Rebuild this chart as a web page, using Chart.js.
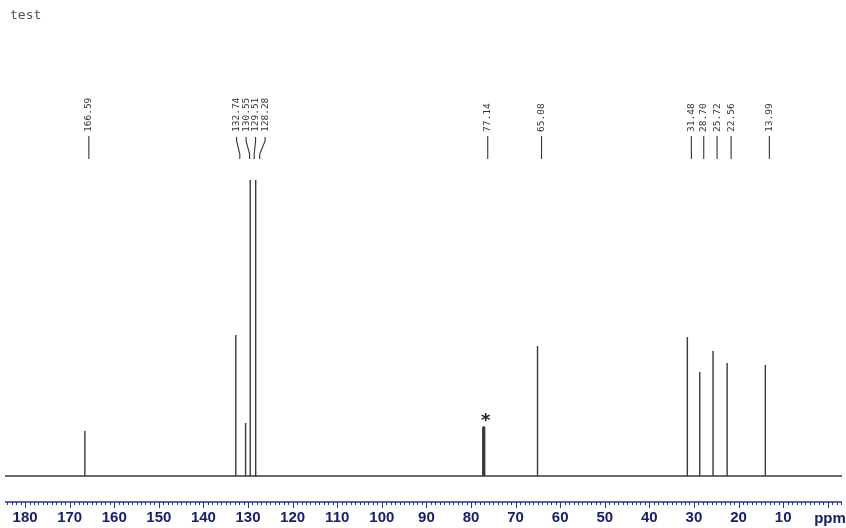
<!DOCTYPE html>
<html>
<head>
<meta charset="utf-8">
<script src="https://cdn.jsdelivr.net/npm/chart.js@4/dist/chart.umd.min.js"></script>
<style>
  html, body { margin: 0; padding: 0; background: #ffffff; }
  #wrap { position: relative; width: 846px; height: 528px; }
</style>
</head>
<body>
<div id="wrap"><canvas id="nmr" width="846" height="528"></canvas></div>
<script>
// 13C NMR spectrum (ppm scale, decreasing to the right)
const peakPpm    = [166.59, 132.74, 130.55, 129.51, 128.28, 77.36, 77.14, 76.93, 65.08, 31.48, 28.70, 25.72, 22.56, 13.99];
const peakHeight = [45,     141,    53,     400,    400,    49,    50,    49,    130,   139,   104,   125,   113,   111];

// printed peak picks
const labelPpm = ['166.59', '132.74', '130.55', '129.51', '128.28', '77.14', '65.08', '31.48', '28.70', '25.72', '22.56', '13.99'];

// axis ticks
const xTickLabels = [180, 170, 160, 150, 140, 130, 120, 110, 100, 90, 80, 70, 60, 50, 40, 30, 20, 10];
const ppmMin = -3.2, ppmMax = 184.5;

// solvent marker (CDCl3)
const solventPpm = 77.14;

// spectrum trace: flat baseline with a stick at each resonance
const trace = [{ x: ppmMax, y: 0 }];
peakPpm.map((p, i) => [p, peakHeight[i]])
  .sort((a, b) => b[0] - a[0])
  .forEach(([p, h]) => {
    trace.push({ x: p, y: 0 }, { x: p, y: h }, { x: p, y: 0 });
  });
trace.push({ x: ppmMin, y: 0 });

const NAVY = '#26348a';
const NAVY_TEXT = '#19206a';

// page title
const titlePlugin = {
  id: 'title',
  afterDraw(chart) {
    const c = chart.ctx;
    c.save();
    c.fillStyle = '#555';
    c.font = '13px "DejaVu Sans Mono", monospace';
    c.textBaseline = 'middle';
    c.fillText('test', 10, 16);
    c.restore();
  }
};

// ppm axis drawn below the trace
const ppmAxisPlugin = {
  id: 'ppmAxis',
  afterDraw(chart) {
    const c = chart.ctx, xs = chart.scales.x, y0 = chart.chartArea.bottom;
    c.save();
    c.strokeStyle = NAVY;
    c.lineWidth = 1.5;
    c.beginPath();
    c.moveTo(chart.chartArea.left, y0);
    c.lineTo(chart.chartArea.right, y0);
    c.stroke();
    c.lineWidth = 1;
    for (let v = Math.floor(ppmMax); v >= Math.ceil(ppmMin); v--) {
      const x = Math.round(xs.getPixelForValue(v)) + 0.5;
      const len = (v % 10 === 0) ? 6 : 3;
      c.beginPath();
      c.moveTo(x, y0);
      c.lineTo(x, y0 + len);
      c.stroke();
    }
    c.fillStyle = NAVY_TEXT;
    c.font = 'bold 15px "Liberation Sans", Arial, sans-serif';
    c.textAlign = 'center';
    c.textBaseline = 'middle';
    xTickLabels.forEach(v => c.fillText(String(v), xs.getPixelForValue(v), 518));
    c.fillText('ppm', 830, 519);
    c.restore();
  }
};

// peak-pick labels with leader lines
const peakLabelPlugin = {
  id: 'peakLabels',
  afterDraw(chart) {
    const c = chart.ctx, xs = chart.scales.x;
    const anchors = labelPpm.map(s => xs.getPixelForValue(parseFloat(s)) + 4);
    // spread crowded labels apart, keeping each group centred on its peaks
    const joinGap = 11, minGap = 9.5;
    const pos = anchors.slice();
    let groups = [], cur = [0];
    for (let i = 1; i < pos.length; i++) {
      if (anchors[i] - anchors[i - 1] < joinGap) cur.push(i);
      else { groups.push(cur); cur = [i]; }
    }
    groups.push(cur);
    groups.forEach(g => {
      if (g.length < 2) return;
      const mean = g.reduce((s, i) => s + anchors[i], 0) / g.length;
      const start = mean - minGap * (g.length - 1) / 2;
      g.forEach((i, k) => { pos[i] = start + k * minGap; });
    });

    c.save();
    c.fillStyle = '#333';
    c.strokeStyle = '#333';
    c.lineWidth = 1.1;
    c.font = '9.5px "DejaVu Sans Mono", monospace';
    c.textBaseline = 'middle';
    c.textAlign = 'left';
    labelPpm.forEach((txt, i) => {
      const lx = pos[i], ax = anchors[i];
      c.save();
      c.translate(lx, 132);
      c.rotate(-Math.PI / 2);
      c.fillText(txt, 0, 0);
      c.restore();
      c.beginPath();
      if (Math.abs(lx - ax) < 0.5) {
        c.moveTo(lx, 136);
        c.lineTo(lx, 159);
      } else {
        c.moveTo(lx, 137);
        c.lineTo(lx, 141);
        c.lineTo(ax, 154);
        c.lineTo(ax, 159);
      }
      c.stroke();
    });
    // solvent asterisk
    c.font = 'bold 18px "DejaVu Sans", sans-serif';
    c.textAlign = 'center';
    c.fillStyle = '#222';
    c.fillText('*', xs.getPixelForValue(solventPpm) + 2, 421);
    c.restore();
  }
};

new Chart(document.getElementById('nmr'), {
  type: 'line',
  data: {
    datasets: [{
      data: trace,
      borderColor: '#3a3a3a',
      borderWidth: 1.4,
      pointRadius: 0,
      tension: 0,
      fill: false
    }]
  },
  options: {
    responsive: false,
    animation: false,
    events: [],
    layout: { padding: { left: 5, right: 4, top: 180, bottom: 26 } },
    plugins: { legend: { display: false }, tooltip: { enabled: false } },
    scales: {
      x: { type: 'linear', reverse: true, min: ppmMin, max: ppmMax, display: false },
      y: { min: -26, max: 296, display: false }
    }
  },
  plugins: [titlePlugin, ppmAxisPlugin, peakLabelPlugin]
});
</script>
</body>
</html>
